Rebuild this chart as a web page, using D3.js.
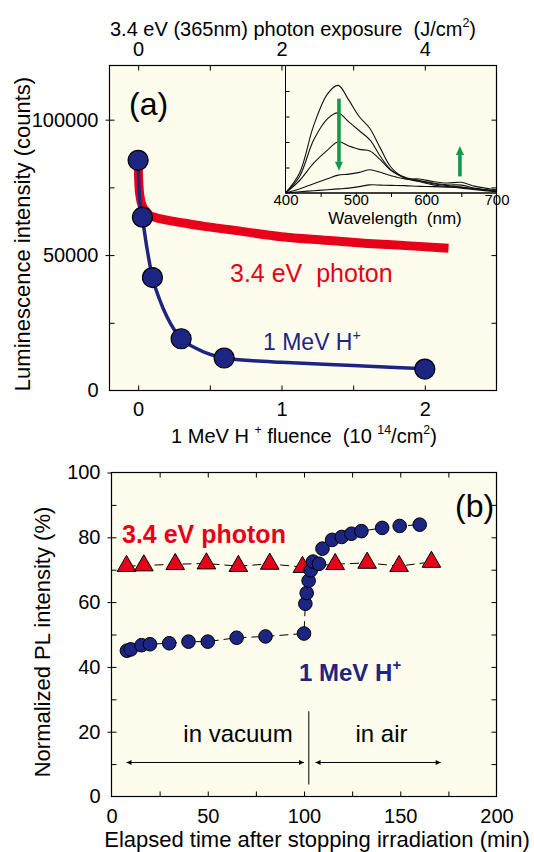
<!DOCTYPE html>
<html>
<head>
<meta charset="utf-8">
<script src="https://cdn.jsdelivr.net/npm/d3@7"></script>
<style>
  body { margin: 0; background: #fff; }
  text { font-family: "Liberation Sans", Arial, Helvetica, sans-serif; white-space: pre; }
</style>
</head>
<body>
<svg id="chart" width="534" height="852"></svg>
<script>
// ---------- data, panel (a)
// 1 MeV H+ points (fluence in 10^14/cm2, counts)
var hFluence = [0, 0.03, 0.1, 0.3, 0.6, 2.0];
var hCounts = [85000, 64000, 41700, 19100, 12000, 7900];
// fitted curve through the H+ points
var fitFluence = [0, 0.005, 0.015, 0.03, 0.06, 0.1, 0.15, 0.2, 0.3, 0.4, 0.6, 0.8, 1.0, 1.5, 2.0];
var fitCounts = [85000, 75000, 68500, 63500, 53000, 41700, 33500, 27300, 19100, 15700, 12000, 11000, 10400, 9200, 8000];
// 3.4 eV photon decay (J/cm2, counts) - drawn as a thick band
var photonDose = [0, 0.01, 0.03, 0.06, 0.1, 0.16, 0.25, 0.4, 0.6, 0.9, 1.3, 2.0, 2.6, 3.2, 3.8, 4.33];
var photonCounts = [84000, 76000, 71000, 68000, 66500, 64700, 63800, 62900, 62000, 60700, 59300, 56800, 55500, 54300, 53400, 52500];

// inset PL spectra (arb. units)
var wavelength = [400, 420, 440, 460, 475, 490, 505, 520, 535, 550, 570, 590, 610, 630, 650, 670, 700];
var spectrum1 = [0, 0.78, 2.64, 3.90, 4.22, 3.64, 2.99, 2.53, 1.75, 1.01, 0.58, 0.45, 0.32, 0.25, 0.19, 0.13, 0.05];
var spectrum2 = [0, 0.65, 2.08, 2.92, 3.14, 2.79, 2.44, 2.08, 1.43, 0.91, 0.58, 0.47, 0.36, 0.29, 0.23, 0.16, 0.06];
var spectrum3 = [0, 0.49, 1.17, 1.69, 2.01, 1.84, 1.71, 1.65, 1.30, 0.88, 0.62, 0.49, 0.39, 0.32, 0.31, 0.18, 0.08];
var spectrum4 = [0, 0.16, 0.36, 0.56, 0.70, 0.74, 0.81, 0.91, 0.81, 0.68, 0.55, 0.55, 0.45, 0.39, 0.42, 0.26, 0.13];
var spectrum5 = [0, 0.05, 0.09, 0.13, 0.16, 0.19, 0.25, 0.32, 0.31, 0.30, 0.29, 0.26, 0.25, 0.23, 0.22, 0.16, 0.08];

// ---------- data, panel (b)
var hTime = [8, 10, 15.6, 20, 30, 40, 50, 65, 80, 100, 100.7, 101.4, 102.4, 103.5, 104.7, 107.8, 109.6, 114.6, 119.6, 124.6, 129.8, 140.6, 149.7, 160.1];
var hPL = [45.0, 45.4, 46.7, 47.0, 47.3, 47.8, 47.8, 49.0, 49.4, 50.3, 59.5, 62.8, 66.6, 69.8, 72.5, 71.8, 76.5, 79.2, 80.1, 81.1, 81.9, 82.9, 83.5, 83.9];
var photonTime = [7.8, 16.8, 33.1, 49.3, 65.9, 82.2, 99.2, 116.2, 132.8, 149.4, 166.2];
var photonPL = [71.1, 71.3, 71.7, 71.9, 71.1, 71.8, 70.8, 71.7, 72.1, 71.1, 72.4];

// tick labels
var fluenceTicks = [0, 1, 2];
var doseTicks = [0, 2, 4];
var countTicks = [0, 50000, 100000];
var wlTicks = [400, 500, 600, 700];
var timeTicks = [0, 50, 100, 150, 200];
var plTicks = [0, 20, 40, 60, 80, 100];

var blue = "#1d2582", red = "#e60019", green = "#11994a", cream = "#fefcec";
var svg = d3.select("#chart");

// small helpers
function tickMarks(parent, axis, tx, ty, values, size) {
    parent.append("g")
        .attr("transform", "translate(" + tx + "," + ty + ")")
        .call(axis.tickValues(values).tickSize(size).tickFormat(""))
        .call(function(g) {
            g.select(".domain").remove();
            g.selectAll("line").attr("stroke", "#000").attr("stroke-width", 1);
        });
}

function tickLabels(parent, axis, tx, ty, values, pad, size, fmt) {
    parent.append("g")
        .attr("transform", "translate(" + tx + "," + ty + ")")
        .call(axis.tickValues(values).tickSize(0).tickPadding(pad).tickFormat(fmt || d3.format("d")))
        .call(function(g) {
            g.select(".domain").remove();
            g.selectAll("text").attr("font-size", size).attr("fill", "#000")
                .attr("font-family", '"Liberation Sans", Arial, sans-serif');
        });
}

// parts: [text, isSuperscript]
function richText(parent, x, y, parts, size, opts) {
    opts = opts || {};
    var t = parent.append("text")
        .attr("x", x).attr("y", y)
        .attr("font-size", size)
        .attr("text-anchor", opts.anchor || "middle")
        .attr("fill", opts.fill || "#000")
        .attr("font-weight", opts.weight || "normal");
    if (opts.rotate) t.attr("transform", "rotate(-90," + x + "," + y + ")");
    var up = false;
    parts.forEach(function(p) {
        var s = t.append("tspan").text(p[0]);
        if (p[1] && !up) { s.attr("dy", -size * 0.45).attr("font-size", size * 0.62); up = true; }
        else if (p[1]) { s.attr("font-size", size * 0.62); }
        else if (up) { s.attr("dy", size * 0.45); up = false; }
    });
    return t;
}

// ================= panel (a) =================
var a = {left: 109.5, right: 496.5, top: 65.5, bottom: 390.5};
var xF = d3.scaleLinear().domain([-0.2, 2.5]).range([a.left, a.right]);
var xE = d3.scaleLinear().domain([-0.4, 5.0]).range([a.left, a.right]);
var yA = d3.scaleLinear().domain([0, 120000]).range([a.bottom, a.top]);

var pa = svg.append("g").attr("class", "panel_a");
pa.append("rect").attr("x", a.left).attr("y", a.top)
    .attr("width", a.right - a.left).attr("height", a.bottom - a.top).attr("fill", cream);

// --- inset
var ins = {left: 285.5, right: 496.5, top: 65.5, bottom: 193};
var xW = d3.scaleLinear().domain([400, 700]).range([ins.left, ins.right]);
var yW = d3.scaleLinear().domain([0, 5]).range([ins.bottom, ins.top]);
var inset = pa.append("g").attr("class", "inset");

var spectra = [spectrum1, spectrum2, spectrum3, spectrum4, spectrum5];
var specLine = d3.line()
    .x(function(d) { return xW(d[0]); })
    .y(function(d) { return yW(d[1]); })
    .curve(d3.curveCatmullRom.alpha(0.5));
spectra.forEach(function(s) {
    inset.append("path")
        .attr("d", specLine(d3.zip(wavelength, s)))
        .attr("fill", "none").attr("stroke", "#111").attr("stroke-width", 1.1);
});

tickMarks(inset, d3.axisRight(yW), ins.left, 0, [1, 2, 3, 4], 4);
tickMarks(inset, d3.axisBottom(xW), 0, ins.bottom, [450, 500, 550, 600, 650], 4);
inset.append("line").attr("x1", ins.left).attr("x2", ins.left).attr("y1", ins.top).attr("y2", ins.bottom)
    .attr("stroke", "#000");
inset.append("line").attr("x1", ins.left).attr("x2", ins.right).attr("y1", ins.bottom).attr("y2", ins.bottom)
    .attr("stroke", "#000").attr("stroke-width", 1.4);
tickLabels(inset, d3.axisBottom(xW), 0, ins.bottom, wlTicks, 1, 15);
richText(inset, 395, 224, [["Wavelength  (nm)"]], 17);

// green arrows in the inset
function arrow(parent, x, y1, y2) {
    var dir = y2 > y1 ? 1 : -1;
    var head = 9;
    parent.append("line").attr("x1", x).attr("x2", x).attr("y1", y1).attr("y2", y2 - dir * head)
        .attr("stroke", green).attr("stroke-width", 3.6);
    parent.append("path")
        .attr("d", "M" + (x - 4) + "," + (y2 - dir * head) + "L" + (x + 4) + "," + (y2 - dir * head) + "L" + x + "," + y2 + "Z")
        .attr("fill", green);
}
arrow(inset, xW(476), yW(3.7), yW(0.87));
arrow(inset, xW(648), yW(0.65), yW(1.84));

// --- axes ticks, panel (a)
tickMarks(pa, d3.axisRight(yA), a.left, 0, [25000, 50000, 75000, 100000], 5);
tickMarks(pa, d3.axisLeft(yA), a.left, 0, [50000, 100000], 4);
tickMarks(pa, d3.axisLeft(yA), a.right, 0, [25000, 50000, 75000, 100000], 5);
tickMarks(pa, d3.axisTop(xF), 0, a.bottom, [0, 0.5, 1, 1.5, 2], 5);
tickMarks(pa, d3.axisBottom(xE), 0, a.top, [0, 1, 2, 3, 4], 5);

tickLabels(pa, d3.axisLeft(yA), a.left, 0, countTicks, 11, 20);
tickLabels(pa, d3.axisBottom(xF), 0, a.bottom, fluenceTicks, 11, 20);
tickLabels(pa, d3.axisTop(xE), 0, a.top, doseTicks, 9.5, 20);

// --- photon band
var bandLine = d3.line()
    .x(function(d) { return xE(d[0]); })
    .y(function(d) { return yA(d[1]); })
    .curve(d3.curveMonotoneX);
pa.append("path")
    .attr("d", bandLine(d3.zip(photonDose, photonCounts)))
    .attr("fill", "none").attr("stroke", red).attr("stroke-width", 9)
    .attr("stroke-linejoin", "round").attr("stroke-linecap", "butt");

// --- H+ fit curve and points
var fitLine = d3.line()
    .x(function(d) { return xF(d[0]); })
    .y(function(d) { return yA(d[1]); })
    .curve(d3.curveMonotoneX);
pa.append("path")
    .attr("d", fitLine(d3.zip(fitFluence, fitCounts)))
    .attr("fill", "none").attr("stroke", blue).attr("stroke-width", 3.5);

pa.selectAll(".h_dot").data(d3.zip(hFluence, hCounts)).enter()
    .append("circle").attr("class", "h_dot")
    .attr("cx", function(d) { return xF(d[0]); })
    .attr("cy", function(d) { return yA(d[1]); })
    .attr("r", 10)
    .attr("fill", blue).attr("stroke", "#000").attr("stroke-width", 1.2);

// frame
pa.append("rect").attr("x", a.left).attr("y", a.top)
    .attr("width", a.right - a.left).attr("height", a.bottom - a.top)
    .attr("fill", "none").attr("stroke", "#000").attr("stroke-width", 1.2);

// texts
richText(pa, 129, 115, [["(a)"]], 32, {anchor: "start"});
richText(pa, 230, 282, [["3.4 eV  photon"]], 25, {anchor: "start", fill: red});
richText(pa, 263, 350, [["1 MeV H"], ["+", true]], 23, {anchor: "start", fill: blue});
richText(pa, 293, 36, [["3.4 eV (365nm) photon exposure  (J/cm"], ["2", true], [")"]], 20);
richText(pa, 304, 443, [["1 MeV H "], ["+", true], [" fluence  (10 "], ["14", true], ["/cm"], ["2", true], [")"]], 20);
richText(pa, 30, 234, [["Luminescence intensity (counts)"]], 22, {rotate: true});

// ================= panel (b) =================
var b = {left: 111.5, right: 496.5, top: 472.5, bottom: 796.5};
var xT = d3.scaleLinear().domain([0, 200]).range([b.left, b.right]);
var yB = d3.scaleLinear().domain([0, 100]).range([b.bottom, b.top]);

var pb = svg.append("g").attr("class", "panel_b");
pb.append("rect").attr("x", b.left).attr("y", b.top)
    .attr("width", b.right - b.left).attr("height", b.bottom - b.top).attr("fill", cream);

tickMarks(pb, d3.axisRight(yB), b.left, 0, d3.range(10, 100, 10), 5);
tickMarks(pb, d3.axisLeft(yB), b.left, 0, [20, 40, 60, 80, 100], 4);
tickMarks(pb, d3.axisLeft(yB), b.right, 0, d3.range(10, 100, 10), 5);
tickMarks(pb, d3.axisTop(xT), 0, b.bottom, d3.range(25, 200, 25), 5);
tickMarks(pb, d3.axisBottom(xT), 0, b.top, d3.range(25, 200, 25), 5);

tickLabels(pb, d3.axisLeft(yB), b.left, 0, plTicks, 11, 20);
tickLabels(pb, d3.axisBottom(xT), 0, b.bottom, timeTicks, 12, 20);

// dashed connectors
var dashLine = d3.line()
    .x(function(d) { return xT(d[0]); })
    .y(function(d) { return yB(d[1]); });
pb.append("path").attr("d", dashLine(d3.zip(photonTime, photonPL)))
    .attr("fill", "none").attr("stroke", "#000").attr("stroke-width", 1).attr("stroke-dasharray", "9,5");
pb.append("path").attr("d", dashLine(d3.zip(hTime, hPL)))
    .attr("fill", "none").attr("stroke", "#000").attr("stroke-width", 1).attr("stroke-dasharray", "9,5");

// markers
var tri = d3.symbol().type(d3.symbolTriangle).size(150);
pb.selectAll(".tri").data(d3.zip(photonTime, photonPL)).enter()
    .append("path").attr("class", "tri")
    .attr("d", tri)
    .attr("transform", function(d) { return "translate(" + xT(d[0]) + "," + yB(d[1]) + ")"; })
    .attr("fill", red).attr("stroke", "#000").attr("stroke-width", 1);

pb.selectAll(".dot").data(d3.zip(hTime, hPL)).enter()
    .append("circle").attr("class", "dot")
    .attr("cx", function(d) { return xT(d[0]); })
    .attr("cy", function(d) { return yB(d[1]); })
    .attr("r", 6.8)
    .attr("fill", blue).attr("stroke", "#000").attr("stroke-width", 1);

// vacuum / air annotation
var arrowY = 10.5;
var defs = svg.append("defs");
defs.append("marker").attr("id", "ah").attr("viewBox", "0 0 10 10")
    .attr("refX", 10).attr("refY", 5).attr("markerWidth", 7).attr("markerHeight", 5)
    .attr("orient", "auto-start-reverse")
    .append("path").attr("d", "M0,0L10,5L0,10Z").attr("fill", "#000");
[[7.8, 100], [106, 171]].forEach(function(r) {
    pb.append("line")
        .attr("x1", xT(r[0])).attr("x2", xT(r[1]))
        .attr("y1", yB(arrowY)).attr("y2", yB(arrowY))
        .attr("stroke", "#000").attr("stroke-width", 1)
        .attr("marker-start", "url(#ah)").attr("marker-end", "url(#ah)");
});
pb.append("line").attr("x1", xT(102.5)).attr("x2", xT(102.5))
    .attr("y1", yB(26.3)).attr("y2", yB(3.7)).attr("stroke", "#000").attr("stroke-width", 1);
richText(pb, 238, 742, [["in vacuum"]], 24);
richText(pb, 381.5, 742, [["in air"]], 24);

// frame
pb.append("rect").attr("x", b.left).attr("y", b.top)
    .attr("width", b.right - b.left).attr("height", b.bottom - b.top)
    .attr("fill", "none").attr("stroke", "#000").attr("stroke-width", 1.2);

richText(pb, 455, 517, [["(b)"]], 32, {anchor: "start"});
richText(pb, 122, 543, [["3.4 eV photon"]], 25, {anchor: "start", fill: red, weight: "bold"});
richText(pb, 299, 681, [["1 MeV H"], ["+", true]], 24, {anchor: "start", fill: blue, weight: "bold"});
richText(pb, 317, 847, [["Elapsed time after stopping irradiation (min)"]], 22);
richText(pb, 50, 642, [["Normalized PL intensity (%)"]], 22, {rotate: true});
</script>
</body>
</html>
